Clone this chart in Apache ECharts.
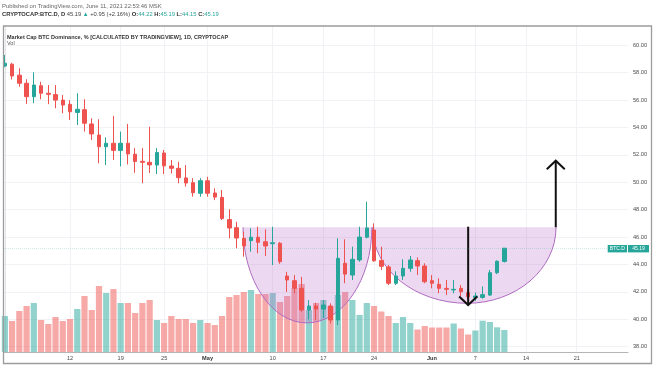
<!DOCTYPE html>
<html><head><meta charset="utf-8">
<script src="https://cdn.jsdelivr.net/npm/echarts@6/dist/echarts.min.js"></script>
<style>html,body{margin:0;padding:0;background:#fff}#c{width:654px;height:366px}</style>
</head><body><div id="c"></div>
<script>
const dates = ['2021-04-03','2021-04-04','2021-04-05','2021-04-06','2021-04-07','2021-04-08','2021-04-09','2021-04-10','2021-04-11','2021-04-12',
'2021-04-13','2021-04-14','2021-04-15','2021-04-16','2021-04-17','2021-04-18','2021-04-19','2021-04-20','2021-04-21','2021-04-22',
'2021-04-23','2021-04-24','2021-04-25','2021-04-26','2021-04-27','2021-04-28','2021-04-29','2021-04-30','2021-05-01','2021-05-02',
'2021-05-03','2021-05-04','2021-05-05','2021-05-06','2021-05-07','2021-05-08','2021-05-09','2021-05-10','2021-05-11','2021-05-12',
'2021-05-13','2021-05-14','2021-05-15','2021-05-16','2021-05-17','2021-05-18','2021-05-19','2021-05-20','2021-05-21','2021-05-22',
'2021-05-23','2021-05-24','2021-05-25','2021-05-26','2021-05-27','2021-05-28','2021-05-29','2021-05-30','2021-05-31','2021-06-01',
'2021-06-02','2021-06-03','2021-06-04','2021-06-05','2021-06-06','2021-06-07','2021-06-08','2021-06-09','2021-06-10','2021-06-11'];
const open = [58.49,58.62,57.82,57.23,56.25,57.05,56.50,56.40,56.00,55.69,
55.10,55.30,54.26,53.45,52.60,52.85,52.33,52.85,52.05,51.53,
51.46,51.26,52.14,51.19,51.02,50.32,49.97,49.20,50.11,49.22,
48.90,47.28,46.69,45.91,45.74,45.99,45.66,45.52,45.55,43.16,
42.82,42.26,40.68,40.97,40.75,40.97,39.95,44.09,43.23,44.33,
45.99,46.52,44.30,43.82,42.63,43.16,43.72,44.28,43.89,42.82,
42.55,42.26,42.14,42.26,41.94,41.60,41.60,41.77,43.40,44.22];
const close = [58.69,57.76,57.23,56.25,57.10,56.50,56.42,56.00,55.64,55.15,
55.33,54.31,53.53,52.60,52.85,52.33,52.85,52.07,51.52,51.46,
51.27,52.17,51.20,51.02,50.34,49.95,49.24,50.12,49.20,48.92,
47.35,46.66,45.93,45.35,45.99,45.62,45.35,45.59,44.20,42.87,
42.26,40.68,40.97,40.75,41.04,39.95,44.45,43.30,44.38,46.00,
46.67,44.27,43.87,42.63,43.16,43.72,44.33,43.89,42.74,42.63,
42.26,42.19,42.19,42.01,41.65,41.70,41.80,43.40,44.24,45.19];
const high = [59.30,58.73,58.32,57.52,58.03,57.34,57.10,57.10,56.37,56.00,
56.50,56.06,54.67,54.60,53.28,54.84,53.70,54.26,52.50,52.50,
54.06,52.50,52.36,51.63,51.50,51.26,50.30,50.30,50.40,49.56,
49.44,48.03,47.12,46.40,46.64,46.76,46.57,46.76,45.64,43.47,
43.23,43.10,41.40,41.20,41.40,41.17,45.91,45.84,45.30,46.76,
48.58,47.00,45.30,43.96,43.50,44.38,44.62,44.52,44.09,43.23,
42.99,42.87,42.87,42.50,42.20,41.95,42.40,43.60,44.30,45.19];
const low = [58.40,57.50,56.98,55.72,55.77,56.06,55.70,55.40,55.04,54.55,
54.18,53.70,53.09,51.39,51.26,51.63,51.16,51.30,50.69,49.94,
50.68,50.60,50.60,50.65,49.93,49.68,48.95,48.95,48.95,48.70,
47.25,45.91,45.18,44.57,44.93,44.82,44.62,43.96,44.05,42.00,
41.90,40.55,40.00,39.95,40.10,39.70,39.58,42.63,42.87,44.20,
45.91,44.20,43.60,42.50,42.50,42.87,43.47,43.23,42.63,42.26,
41.90,41.77,41.90,41.70,41.40,41.35,41.50,41.70,43.30,44.15];
const volume = [36,31,41,46,49,32,28,35,31,33,
43,56,42,66,59,63,49,49,39,49,
52,32,29,36,33,33,29,32,29,27,
36,55,57,60,62,58,58,59,50,56,
64,68,42,49,52,46,57,60,52,37,
49,46,40.5,36,29,35,29,22.5,26,24.5,
24.5,24.5,28.5,23.5,17.5,21.5,31.3,30,24.7,22];
const tickDates = ['2021-04-12','2021-04-19','2021-04-25','2021-05-01','2021-05-10','2021-05-17','2021-05-24','2021-06-01','2021-06-07','2021-06-14','2021-06-21'];
const tickLabels = ['12','19','25','May','10','17','24','Jun','7','14','21'];
const priceTicks = [38,40,42,44,46,48,50,52,54,56,58,60];
// cup annotations (day offsets from first date, values in %)
const cupLeftDay = [32.9, 50.8];
const cupLowDay = [41.7, 63.85];
const cupRightDay = [50.7, 76.14];
const cupRim = [46.72, 46.72];
const cupLow = [39.74, 41.17];
// arrow annotations
const arrowDay = [64.0, 76.1];
const arrowFrom = [46.76, 46.72];
const arrowTo = [41.04, 51.58];

const DAY = 86400000;
const t0 = Date.parse(dates[0]);
const dayOf = d => Math.round((Date.parse(d) - t0) / DAY);
const tickDays = tickDates.map(dayOf);
const xMin = -0.12, xMax = 86.08;
const UP = '#26a69a', DOWN = '#ef5350';
const FONT = 'Liberation Sans';

const candleData = dates.map((d, i) => [dayOf(d), open[i], close[i], low[i], high[i]]);
const volData = dates.map((d, i) => [dayOf(d), volume[i]]);
const cupData = cupRim.map((r, i) => [cupLeftDay[i], cupLowDay[i], cupRightDay[i], r, cupLow[i]]);
const arrowData = arrowDay.map((x, i) => [x, arrowFrom[i], arrowTo[i]]);

const chart = echarts.init(document.getElementById('c'), null, {renderer: 'canvas'});
chart.setOption({
  animation: false,
  backgroundColor: '#fff',
  grid: [
    {left: 4, right: 26, top: 26, bottom: 14},
    {left: 4, right: 26, top: 232, bottom: 14}
  ],
  xAxis: [
    {type: 'value', gridIndex: 0, min: xMin, max: xMax,
     axisLine: {show: true, onZero: false, lineStyle: {color: '#b5b5b5', width: 1}},
     axisTick: {show: false, customValues: tickDays},
     splitLine: {show: true, lineStyle: {color: '#f0f2f5', width: 1}},
     axisLabel: {customValues: tickDays, margin: 3.5, fontSize: 5.6, fontFamily: FONT, color: '#4a4a4a',
       formatter: v => { const k = tickDays.indexOf(Math.round(v)); const s = k >= 0 ? tickLabels[k] : ''; return /[A-Za-z]/.test(s) ? '{b|' + s + '}' : s; },
       rich: {b: {fontWeight: 'bold', fontSize: 5.6, fontFamily: FONT, color: '#333'}}}},
    {type: 'value', gridIndex: 1, min: xMin, max: xMax, show: false}
  ],
  yAxis: [
    {type: 'value', gridIndex: 0, position: 'right', min: 37.613, max: 61.409,
     axisLine: {show: true, lineStyle: {color: '#e3e5ea', width: 1}},
     axisTick: {show: false, customValues: priceTicks},
     splitLine: {show: true, lineStyle: {color: '#f0f2f5', width: 1}},
     axisLabel: {customValues: priceTicks, margin: 5, fontSize: 5.6, fontFamily: FONT, color: '#4a4a4a',
       formatter: v => v.toFixed(2)}},
    {type: 'value', gridIndex: 1, min: 0, max: 120, show: false}
  ],
  series: [
    {type: 'bar', xAxisIndex: 1, yAxisIndex: 1, data: volData, barWidth: 6.2, z: 1,
     itemStyle: {color: p => close[p.dataIndex] >= open[p.dataIndex] ? 'rgba(38,166,154,0.5)' : 'rgba(239,83,80,0.5)'}},
    {type: 'custom', xAxisIndex: 0, yAxisIndex: 0, data: cupData, z: 2, silent: true,
     renderItem: function (params, api) {
       const p0 = api.coord([api.value(0), api.value(3)]);
       const pb = api.coord([api.value(1), api.value(4)]);
       const p1 = api.coord([api.value(2), api.value(3)]);
       const k = 0.5523;
       const d = 'M' + p0[0] + ' ' + p0[1] +
         ' C' + p0[0] + ' ' + (p0[1] + k * (pb[1] - p0[1])) + ' ' + (pb[0] - k * (pb[0] - p0[0])) + ' ' + pb[1] + ' ' + pb[0] + ' ' + pb[1] +
         ' C' + (pb[0] + k * (p1[0] - pb[0])) + ' ' + pb[1] + ' ' + p1[0] + ' ' + (p1[1] + k * (pb[1] - p1[1])) + ' ' + p1[0] + ' ' + p1[1];
       return {type: 'group', children: [
         {type: 'path', shape: {pathData: d + ' Z'}, style: {fill: 'rgba(186,104,200,0.26)', stroke: null}},
         {type: 'path', shape: {pathData: d}, style: {fill: null, stroke: '#b06cc0', lineWidth: 1}}
       ]};
     }},
    {type: 'candlestick', xAxisIndex: 0, yAxisIndex: 0, data: candleData, z: 3,
     encode: {x: 0, y: [1, 2, 3, 4]}, barWidth: 4,
     itemStyle: {color: UP, color0: DOWN, borderColor: UP, borderColor0: DOWN, borderWidth: 1},
     markLine: {silent: true, symbol: 'none', label: {show: false},
       lineStyle: {color: 'rgba(38,166,154,0.22)', type: 'dotted', width: 1},
       data: [{yAxis: close[close.length - 1]}]}},
    {type: 'custom', xAxisIndex: 0, yAxisIndex: 0, data: arrowData, z: 4, silent: true,
     renderItem: function (params, api) {
       const a = api.coord([api.value(0), api.value(1)]);
       const b = api.coord([api.value(0), api.value(2)]);
       const dir = b[1] > a[1] ? 1 : -1;
       return {type: 'group', children: [
         {type: 'line', shape: {x1: a[0], y1: a[1], x2: b[0], y2: b[1]}, style: {stroke: '#111', lineWidth: 2}},
         {type: 'polyline', shape: {points: [[b[0] - 9, b[1] - dir * 8.5], [b[0], b[1]], [b[0] + 9, b[1] - dir * 8.5]]},
          style: {stroke: '#111', lineWidth: 2, fill: null}}
       ]};
     }}
  ]
});

const last = close[close.length - 1];
const py = chart.convertToPixel({yAxisIndex: 0}, last);
const chg = last - close[close.length - 2];
chart.setOption({
  graphic: [
    {type: 'rect', z: 100, shape: {x: 3.5, y: 26, width: 648, height: 337.5}, style: {fill: null, stroke: '#9c9c9c', lineWidth: 1.3}},
    {type: 'text', z: 100, x: 2, y: 6, style: {text: 'Published on TradingView.com, June 11, 2021 22:53:46 MSK', fontSize: 5.9, fontFamily: FONT, fill: '#666', verticalAlign: 'middle'}},
    {type: 'text', z: 100, x: 2, y: 14, style: {
      text: '{k|CRYPTOCAP:BTC.D, D} {n|' + last.toFixed(2) + '} {u|▲} {n|+' + chg.toFixed(2) + ' (+2.16%)} {k|O:}{u|' + open[69].toFixed(2) + '} {k|H:}{u|' + high[69].toFixed(2) + '} {k|L:}{u|' + low[69].toFixed(2) + '} {k|C:}{u|' + close[69].toFixed(2) + '}',
      verticalAlign: 'middle', fontSize: 5.8, fontFamily: FONT,
      rich: {k: {fontWeight: 'bold', fill: '#333', fontSize: 5.8, fontFamily: FONT}, n: {fill: '#444', fontSize: 5.8, fontFamily: FONT}, u: {fill: UP, fontSize: 5.8, fontFamily: FONT}}}},
    {type: 'text', z: 100, x: 7, y: 37, style: {text: 'Market Cap BTC Dominance, % [CALCULATED BY TRADINGVIEW], 1D, CRYPTOCAP', fontSize: 5.5, fontWeight: 'bold', fontFamily: FONT, fill: '#333', verticalAlign: 'middle'}},
    {type: 'text', z: 100, x: 7, y: 43.5, style: {text: 'Vol', fontSize: 5.5, fontFamily: FONT, fill: '#555', verticalAlign: 'middle'}},
    {type: 'rect', z: 100, shape: {x: 607.7, y: py - 3.2, width: 19.3, height: 7.4}, style: {fill: UP}},
    {type: 'text', z: 101, x: 617.3, y: py + 0.5, style: {text: 'BTC.D', fontSize: 5, fontFamily: FONT, fill: '#fff', align: 'center', verticalAlign: 'middle'}},
    {type: 'rect', z: 100, shape: {x: 628, y: py - 3.2, width: 21, height: 7.4}, style: {fill: UP}},
    {type: 'text', z: 101, x: 638.5, y: py + 0.5, style: {text: last.toFixed(2), fontSize: 5, fontFamily: FONT, fill: '#fff', align: 'center', verticalAlign: 'middle'}}
  ]
});
</script></body></html>
